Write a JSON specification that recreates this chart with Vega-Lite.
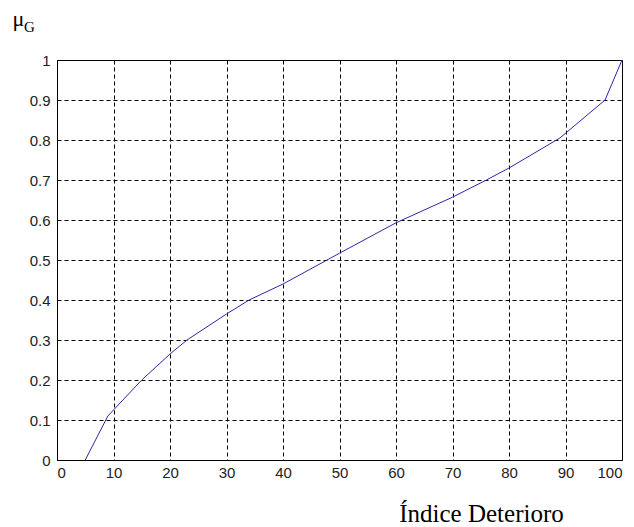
{
  "$schema": "https://vega.github.io/schema/vega-lite/v6.json",
  "autosize": {"type": "none"},
  "padding": {"left": 57, "top": 60, "right": 12, "bottom": 67},
  "width": 565,
  "height": 400,
  "background": "white",
  "title": {
    "text": "G",
    "anchor": "start",
    "frame": "group",
    "font": "Liberation Serif",
    "fontSize": 15,
    "fontWeight": "normal",
    "color": "black",
    "baseline": "alphabetic",
    "offset": 0,
    "dx": -33,
    "dy": 40
  },
  "config": {
    "view": {"stroke": "black", "strokeWidth": 1},
    "axis": {
      "labelFont": "Liberation Sans",
      "labelFontSize": 15,
      "labelColor": "#222222",
      "ticks": false,
      "domainColor": "black",
      "gridColor": "black",
      "gridDash": [4, 3],
      "gridOpacity": 1,
      "gridWidth": 1
    }
  },
  "data": {
    "values": [
      {"indice": 5, "mu": 0},
      {"indice": 9, "mu": 0.11},
      {"indice": 15, "mu": 0.2},
      {"indice": 20, "mu": 0.265},
      {"indice": 23, "mu": 0.3},
      {"indice": 30, "mu": 0.365},
      {"indice": 34, "mu": 0.4},
      {"indice": 40, "mu": 0.44},
      {"indice": 50, "mu": 0.517},
      {"indice": 60, "mu": 0.593},
      {"indice": 70, "mu": 0.657},
      {"indice": 76, "mu": 0.7},
      {"indice": 80, "mu": 0.73},
      {"indice": 89, "mu": 0.805},
      {"indice": 97, "mu": 0.9},
      {"indice": 100, "mu": 1.0}
    ]
  },
  "mark": {"type": "line", "color": "#2a2aa8", "strokeWidth": 1},
  "encoding": {
    "x": {
      "field": "indice",
      "type": "quantitative",
      "scale": {"domain": [0, 100], "nice": false},
      "axis": {
        "values": [0, 10, 20, 30, 40, 50, 60, 70, 80, 90, 100],
        "labelPadding": 5,
        "title": "Índice Deterioro",
        "titleFont": "Liberation Serif",
        "titleFontSize": 25,
        "titleFontWeight": "normal",
        "titleColor": "black",
        "titleX": 424,
        "titleY": 61,
        "titleAlign": "center",
        "titleBaseline": "alphabetic"
      }
    },
    "y": {
      "field": "mu",
      "type": "quantitative",
      "scale": {"domain": [0, 1], "nice": false, "zero": true},
      "axis": {
        "values": [0, 0.1, 0.2, 0.3, 0.4, 0.5, 0.6, 0.7, 0.8, 0.9, 1],
        "format": "~g",
        "labelPadding": 7,
        "title": "μ",
        "titleAngle": 0,
        "titleFont": "Liberation Serif",
        "titleFontSize": 22,
        "titleFontWeight": "normal",
        "titleColor": "black",
        "titleX": -45,
        "titleY": -35,
        "titleAlign": "left",
        "titleBaseline": "alphabetic"
      }
    }
  }
}
